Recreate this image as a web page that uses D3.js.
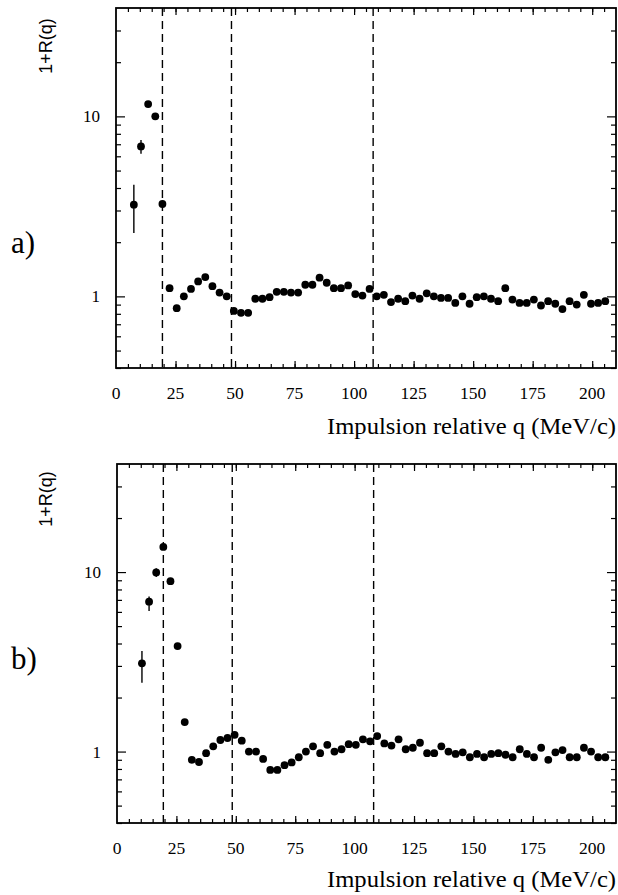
<!DOCTYPE html>
<html><head><meta charset="utf-8">
<script src="https://cdn.jsdelivr.net/npm/d3@7"></script>
<style>
html,body{margin:0;padding:0;background:#fff;}
svg{display:block;}
</style></head>
<body>
<svg id="chart" width="618" height="895"></svg>
<script>
// ---------- data ----------
const qA = [7.5,10.5,13.5,16.5,19.5,22.5,25.5,28.5,31.5,34.5,37.5,40.5,43.5,46.5,49.5,52.5,55.5,58.5,61.5,64.5,
  67.5,70.5,73.5,76.5,79.5,82.5,85.5,88.5,91.5,94.5,97.5,100.5,103.5,106.5,109.5,112.5,115.5,118.5,121.5,124.5,
  127.5,130.5,133.5,136.5,139.5,142.5,145.5,148.5,151.5,154.5,157.5,160.5,163.5,166.5,169.5,172.5,175.5,178.5,
  181.5,184.5,187.5,190.5,193.5,196.5,199.5,202.5,205.5];
const valsA = [3.23,6.81,11.7,10.0,3.26,1.11,0.86,1.0,1.10,1.21,1.28,1.14,1.05,1.0,0.83,0.81,0.81,0.97,0.97,0.99,
  1.06,1.06,1.05,1.05,1.16,1.16,1.27,1.19,1.11,1.11,1.15,1.03,1.01,1.10,1.0,1.02,0.93,0.97,0.94,1.01,
  0.97,1.04,1.0,0.98,0.98,0.92,1.0,0.91,0.99,1.0,0.97,0.94,1.11,0.96,0.92,0.92,0.96,0.89,
  0.94,0.91,0.85,0.94,0.90,1.02,0.91,0.92,0.94];
const errA = [ {q:7.5, lo:2.25, hi:4.17}, {q:10.5, lo:6.2, hi:7.4} ];

const qB = [10.5,13.5,16.5,19.5,22.5,25.5,28.5,31.5,34.5,37.5,40.5,43.5,46.5,49.5,52.5,55.5,58.5,61.5,64.5,
  67.5,70.5,73.5,76.5,79.5,82.5,85.5,88.5,91.5,94.5,97.5,100.5,103.5,106.5,109.5,112.5,115.5,118.5,121.5,124.5,
  127.5,130.5,133.5,136.5,139.5,142.5,145.5,148.5,151.5,154.5,157.5,160.5,163.5,166.5,169.5,172.5,175.5,178.5,
  181.5,184.5,187.5,190.5,193.5,196.5,199.5,202.5,205.5];
const valsB = [3.10,6.84,9.95,13.8,8.9,3.87,1.46,0.90,0.875,0.98,1.07,1.16,1.19,1.24,1.15,1.0,1.0,0.91,0.79,
  0.79,0.84,0.87,0.93,1.0,1.07,0.98,1.09,1.0,1.03,1.10,1.09,1.17,1.14,1.22,1.11,1.08,1.17,1.03,1.05,
  1.12,0.98,0.98,1.07,1.0,0.97,0.99,0.93,0.97,0.93,0.97,0.98,0.96,0.93,1.03,0.97,0.93,1.05,
  0.90,0.99,1.02,0.93,0.93,1.05,1.00,0.93,0.93];
const errB = [ {q:10.5, lo:2.42, hi:3.63}, {q:13.5, lo:6.06, hi:7.3}, {q:16.5, lo:9.4, hi:10.5} ];

const dashedQ = [19.5, 48.5, 108];
const xTickLabels = [0,25,50,75,100,125,150,175,200];
const yTickLabels = [1,10];
const xTitle = "Impulsion relative q (MeV/c)";
const yTitle = "1+R(q)";
const panelLabels = ["a)","b)"];

// ---------- drawing ----------
const svg = d3.select("#chart");
const serif = "'Liberation Serif','Times New Roman',serif";
const sans = "'Liberation Sans',Arial,sans-serif";

const panels = [
  {q:qA, v:valsA, err:errA, left:116, right:616, top:8, bottom:368, lab:panelLabels[0], labY:253, yTitleY:46, xTitleY:434},
  {q:qB, v:valsB, err:errB, left:117, right:616, top:464, bottom:823, lab:panelLabels[1], labY:669, yTitleY:499, xTitleY:887}
];

panels.forEach(p => {
  const x = d3.scaleLinear().domain([0,210]).range([p.left, p.right]);
  const y = d3.scaleLog().domain([0.4,40]).range([p.bottom, p.top]);
  const g = svg.append("g");

  const xMinor = d3.range(5, 210, 5);
  const yMinor = [0.4,0.5,0.6,0.7,0.8,0.9,2,3,4,5,6,7,8,9,20,30];
  const xMajor = xTickLabels.filter(d=>d>0);

  g.append("g").attr("transform",`translate(0,${p.bottom})`).call(d3.axisBottom(x).tickValues(xMinor).tickSizeInner(-4).tickSizeOuter(0).tickFormat(""));
  g.append("g").attr("transform",`translate(0,${p.bottom})`).call(d3.axisBottom(x).tickValues(xMajor).tickSizeInner(-7).tickSizeOuter(0).tickFormat(""));
  g.append("g").attr("transform",`translate(0,${p.top})`).call(d3.axisTop(x).tickValues(xMinor).tickSizeInner(-4).tickSizeOuter(0).tickFormat(""));
  g.append("g").attr("transform",`translate(0,${p.top})`).call(d3.axisTop(x).tickValues(xMajor).tickSizeInner(-7).tickSizeOuter(0).tickFormat(""));
  g.append("g").attr("transform",`translate(${p.left},0)`).call(d3.axisLeft(y).tickValues(yMinor).tickSizeInner(-5).tickSizeOuter(0).tickFormat(""));
  g.append("g").attr("transform",`translate(${p.left},0)`).call(d3.axisLeft(y).tickValues(yTickLabels).tickSizeInner(-9).tickSizeOuter(0).tickFormat(""));
  g.append("g").attr("transform",`translate(${p.right},0)`).call(d3.axisRight(y).tickValues(yMinor).tickSizeInner(-5).tickSizeOuter(0).tickFormat(""));
  g.append("g").attr("transform",`translate(${p.right},0)`).call(d3.axisRight(y).tickValues(yTickLabels).tickSizeInner(-9).tickSizeOuter(0).tickFormat(""));

  g.selectAll(".domain").remove();
  g.selectAll(".tick line").attr("stroke","#000").attr("stroke-width",1.2);

  g.append("rect").attr("x",p.left).attr("y",p.top).attr("width",p.right-p.left).attr("height",p.bottom-p.top)
    .attr("fill","none").attr("stroke","#000").attr("stroke-width",1.8);

  g.selectAll(".xl").data(xTickLabels).join("text")
    .attr("x", d=>x(d)).attr("y", p.bottom+31)
    .attr("text-anchor","middle").attr("font-family",serif).attr("font-size",17.5).attr("fill","#000")
    .text(d=>d);
  g.selectAll(".yl").data(yTickLabels).join("text")
    .attr("x", p.left-16).attr("y", d=>y(d)+6)
    .attr("text-anchor","end").attr("font-family",serif).attr("font-size",17).attr("fill","#000")
    .text(d=>d);

  g.selectAll(".dash").data(dashedQ).join("line")
    .attr("x1",d=>x(d)).attr("x2",d=>x(d)).attr("y1",p.top).attr("y2",p.bottom)
    .attr("stroke","#000").attr("stroke-width",1.4).attr("stroke-dasharray","8,5");

  g.selectAll(".err").data(p.err).join("line")
    .attr("x1",d=>x(d.q)).attr("x2",d=>x(d.q)).attr("y1",d=>y(d.lo)).attr("y2",d=>y(d.hi))
    .attr("stroke","#000").attr("stroke-width",1.4);

  g.selectAll(".pt").data(p.q.map((q,i)=>({q, v:p.v[i]}))).join("circle")
    .attr("cx",d=>x(d.q)).attr("cy",d=>y(d.v)).attr("r",3.9).attr("fill","#000");

  g.append("text").attr("x",616).attr("y",p.xTitleY).attr("text-anchor","end")
    .attr("font-family",serif).attr("font-size",24).attr("textLength",289).attr("lengthAdjust","spacingAndGlyphs")
    .attr("fill","#000").text(xTitle);
  g.append("text").attr("transform",`translate(52,${p.yTitleY}) rotate(-90)`).attr("text-anchor","middle")
    .attr("font-family",sans).attr("font-size",18).attr("fill","#000").text(yTitle);
  g.append("text").attr("x",11).attr("y",p.labY)
    .attr("font-family",serif).attr("font-size",31).attr("fill","#000").text(p.lab);
});
</script>
</body></html>
